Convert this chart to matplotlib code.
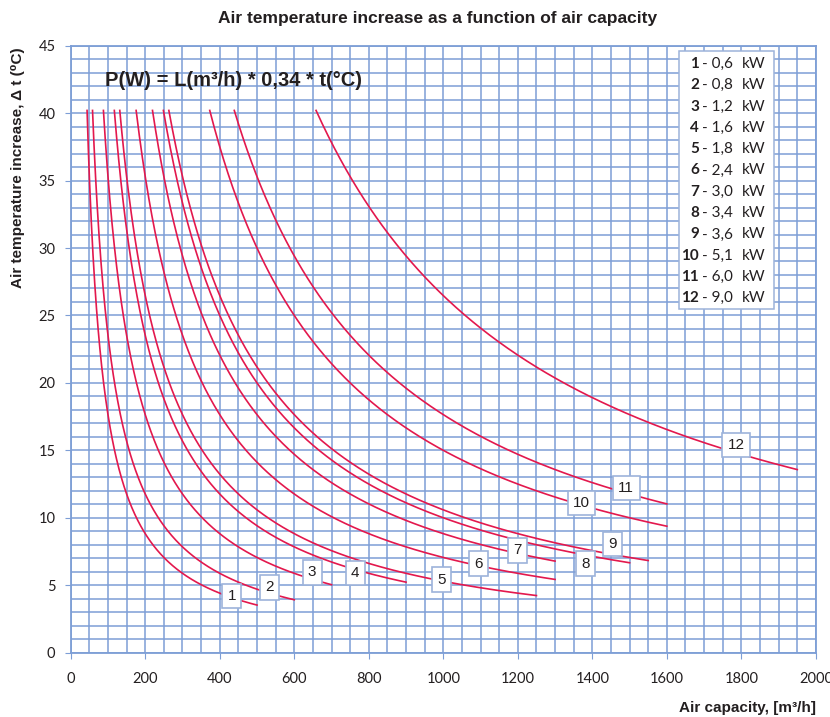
import matplotlib
matplotlib.use("Agg")
import matplotlib.pyplot as plt
import numpy as np

# heater powers (kW) and the air capacity range each curve covers (m3/h)
curve_ids = ["1", "2", "3", "4", "5", "6", "7", "8", "9", "10", "11", "12"]
power_kw = [0.6, 0.8, 1.2, 1.6, 1.8, 2.4, 3.0, 3.4, 3.6, 5.1, 6.0, 9.0]
power_txt = ["0,6", "0,8", "1,2", "1,6", "1,8", "2,4", "3,0", "3,4", "3,6", "5,1", "6,0", "9,0"]
cap_end = [500, 600, 700, 900, 1250, 1300, 1300, 1500, 1550, 1600, 1600, 1950]
t_top = 40.2
factor = 0.34  # P(W) = L * 0.34 * t

# where the number tags sit on the curves
tag_pos = [(432, 4.2), (533, 4.85), (648, 5.95), (764, 5.9), (995, 5.4), (1095, 6.6),
           (1199, 7.6), (1381, 6.6), (1455, 8.05), (1371, 11.1), (1491, 12.2), (1786, 15.4)]

GRID = "#7d9ed6"
RED = "#e3184d"
TXT = "#231f20"


def main():
    fig = plt.figure(figsize=(8.3, 7.17), dpi=100)
    ax = fig.add_axes([0.0852, 0.0897, 0.8978, 0.8466])

    ax.set_xlim(0, 2000)
    ax.set_ylim(0, 45)
    ax.set_xticks(np.arange(0, 2001, 200))
    ax.set_yticks(np.arange(0, 46, 5))
    ax.set_xticks(np.arange(0, 2001, 50), minor=True)
    ax.set_yticks(np.arange(0, 46, 1), minor=True)
    ax.grid(which="both", color=GRID, lw=1.1)
    ax.set_axisbelow(True)
    for s in ax.spines.values():
        s.set_color(GRID)
        s.set_linewidth(1.3)
    ax.tick_params(which="minor", length=0)
    ax.tick_params(which="major", length=4, color=GRID, labelsize=10.5, labelcolor=TXT)
    ax.tick_params(axis="x", pad=10)
    ax.tick_params(axis="y", pad=7)
    for lab in ax.get_xticklabels() + ax.get_yticklabels():
        lab.set_family("Lato")

    for p, le in zip(power_kw, cap_end):
        L = np.linspace(p * 1000 / (factor * t_top), le, 400)
        ax.plot(L, p * 1000 / (factor * L), color=RED, lw=1.2, zorder=3)

    for cid, (x, y) in zip(curve_ids, tag_pos):
        ax.text(x, y, cid, ha="center", va="center", fontsize=11, color=TXT,
                family="Liberation Sans", zorder=5,
                bbox=dict(boxstyle="square,pad=0.35", fc="white", ec="#9db3da", lw=1.2))

    # formula
    ax.text(92, 42.45, "P(W) = L(m³/h) * 0,34 * t(°C)", fontsize=14.5, fontweight="bold",
            family="Liberation Sans", color=TXT, va="center", ha="left", zorder=5)

    # legend box
    fig.patches.append(plt.Rectangle((679 / 830, 1 - 309 / 717), 95 / 830, 258 / 717,
                                     transform=fig.transFigure, fc="white", ec="#9db3da", lw=1.1))
    for i, (cid, pt) in enumerate(zip(curve_ids, power_txt)):
        yy = 1 - (64 + i * 21.3) / 717
        fig.text(699 / 830, yy, cid, ha="right", va="center", fontsize=11, fontweight="bold",
                 family="Lato", color=TXT)
        fig.text(702 / 830, yy, "- " + pt, ha="left", va="center", fontsize=11,
                 family="Lato", color=TXT)
        fig.text(742 / 830, yy, "kW", ha="left", va="center", fontsize=11,
                 family="Lato", color=TXT)

    fig.text(438 / 830, 1 - 18 / 717, "Air temperature increase as a function of air capacity",
             ha="center", va="center", fontsize=12.5, fontweight="bold",
             family=["Liberation Sans", "DejaVu Sans"], color=TXT)
    fig.text(816 / 830, 1 - 708 / 717, "Air capacity, [m³/h]", ha="right", va="center",
             fontsize=11, fontweight="bold", family=["Liberation Sans", "DejaVu Sans"], color=TXT)
    fig.text(18 / 830, 1 - 47 / 717, "Air temperature increase, Δ t (⁰C)", rotation=90,
             ha="center", va="top", fontsize=11, fontweight="bold",
             family=["Liberation Sans", "DejaVu Sans"], color=TXT)

    fig.savefig("out.png", dpi=100)


if __name__ == "__main__":
    main()
